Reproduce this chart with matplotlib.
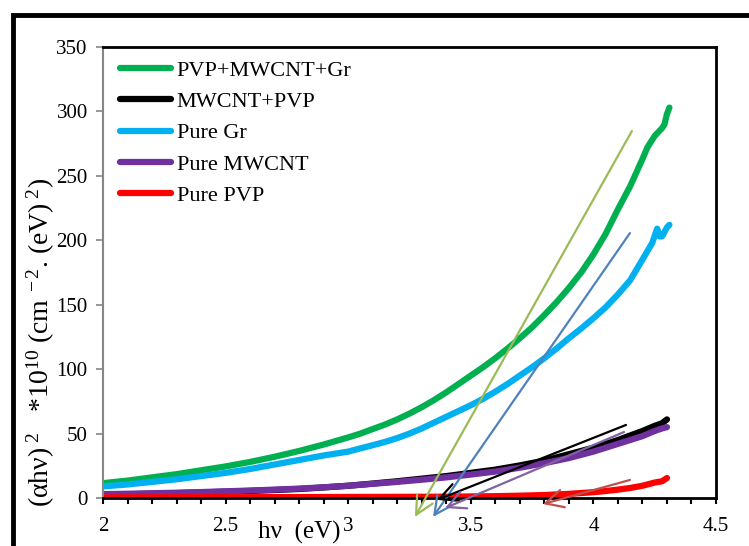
import matplotlib
matplotlib.use('Agg')
import matplotlib.pyplot as plt
from matplotlib.patches import Rectangle

# (alpha h nu)^2
x_green = [2.0, 2.1, 2.2, 2.3, 2.4, 2.5, 2.6, 2.7, 2.8, 2.9, 3.0, 3.05, 3.1, 3.15, 3.2,
           3.25, 3.3, 3.35, 3.4, 3.45, 3.5, 3.55, 3.6, 3.65, 3.7, 3.75, 3.8, 3.85, 3.9,
           3.95, 4.0, 4.05, 4.1, 4.15, 4.2, 4.22, 4.25, 4.28, 4.29, 4.3, 4.31]
y_green = [11.5, 13.5, 16, 18.5, 21.5, 24.5, 28, 32, 36.5, 41.5, 47, 50, 53.5, 57, 61,
           65.5, 70.5, 76, 82, 88.5, 95, 101.5, 108.5, 116, 124, 132.5, 142, 152, 163,
           175, 189, 205, 224, 242, 263, 272, 281, 287, 290, 298, 303]

x_blue = [2.0, 2.1, 2.2, 2.3, 2.4, 2.5, 2.6, 2.7, 2.8, 2.9, 3.0, 3.05, 3.1, 3.15, 3.2,
          3.25, 3.3, 3.35, 3.4, 3.45, 3.5, 3.55, 3.6, 3.65, 3.7, 3.75, 3.8, 3.85, 3.9,
          3.95, 4.0, 4.05, 4.1, 4.15, 4.2, 4.24, 4.26, 4.27, 4.28, 4.3, 4.31]
y_blue = [9, 10.5, 12.5, 14.5, 17, 19.5, 22.5, 26, 29.5, 33, 36, 38.5, 41, 43.5, 46.5,
          50, 54, 58.5, 63, 67.5, 72, 77, 82.5, 88.5, 95, 101.5, 108.5, 116, 124,
          131.5, 139.5, 148, 158, 169, 185, 198, 209, 203, 203, 210, 212]

x_low = [2.0, 2.1, 2.2, 2.3, 2.4, 2.5, 2.6, 2.7, 2.8, 2.9, 3.0, 3.1, 3.2, 3.3, 3.4, 3.5,
         3.6, 3.7, 3.8, 3.9, 4.0, 4.1, 4.2, 4.25, 4.28, 4.3]
y_black = [2.5, 2.9, 3.3, 3.8, 4.3, 4.9, 5.5, 6.2, 7, 8.2, 9.5, 11.2, 13, 15, 17, 19.5,
           22, 25.3, 29, 34, 39, 45, 52, 56, 58, 61]
y_purple = [3, 3.3, 3.7, 4.1, 4.6, 5.2, 5.8, 6.5, 7.3, 8.3, 9.5, 11, 12.5, 14.2, 16, 18.2,
            20.5, 23.5, 27, 31, 36, 42, 48, 52, 54, 55]

x_red = [2.0, 2.5, 3.0, 3.2, 3.4, 3.5, 3.6, 3.7, 3.8, 3.9, 4.0, 4.05, 4.1, 4.15, 4.2,
         4.25, 4.28, 4.3]
y_red = [0.5, 0.6, 0.8, 0.9, 1.0, 1.2, 1.4, 1.8, 2.3, 3.2, 4.5, 5.4, 6.5, 7.8, 9.5,
         12, 13, 15.5]

# tangent arrows: start (x0, y0) -> head (x1, y1)
arrow_x0 = [4.157, 4.149, 4.133, 4.125, 4.149]
arrow_y0 = [284.8, 205.6, 56.7, 51.2, 14.0]
arrow_x1 = [3.272, 3.346, 3.362, 3.395, 3.794]
arrow_y1 = [-14.7, -14.7, -1.5, -7.8, -4.7]
arrow_colors = ['#9BBB59', '#4F81BD', '#000000', '#8064A2', '#C0504D']

plt.rcParams['font.family'] = 'Liberation Serif'
plt.rcParams['mathtext.fontset'] = 'custom'
plt.rcParams['mathtext.rm'] = 'Liberation Serif'
plt.rcParams['mathtext.it'] = 'Liberation Serif:italic'

fig = plt.figure(figsize=(7.49, 5.46), dpi=100)
ax = fig.add_axes([103 / 749, 1 - 498 / 546, 613 / 749, 451 / 546])

lw = 4.5
l_green, = ax.plot(x_green, y_green, color='#00B050', lw=lw, solid_capstyle='round')
l_blue, = ax.plot(x_blue, y_blue, color='#00B0F0', lw=lw, solid_capstyle='round')
l_black, = ax.plot(x_low, y_black, color='#000000', lw=lw, solid_capstyle='round')
l_purple, = ax.plot(x_low, y_purple, color='#7030A0', lw=lw, solid_capstyle='round')
l_red, = ax.plot(x_red, y_red, color='#FF0000', lw=lw, solid_capstyle='round')

for i in range(len(arrow_colors)):
    ax.annotate('', xy=(arrow_x1[i], arrow_y1[i]), xytext=(arrow_x0[i], arrow_y0[i]),
                annotation_clip=False,
                arrowprops=dict(arrowstyle='->', color=arrow_colors[i], lw=1.6,
                                shrinkA=0, shrinkB=0, mutation_scale=32))

ax.set_xlim(2, 4.5)
ax.set_ylim(0, 350)
ax.set_xticks([2, 2.5, 3, 3.5, 4, 4.5])
ax.set_xticklabels(['2', '2.5', '3', '3.5', '4', '4.5'])
ax.set_xticks([2 + 0.1 * k for k in range(26)], minor=True)
ax.set_yticks(range(0, 351, 50))

ax.tick_params(axis='both', labelsize=15)
ax.tick_params(axis='x', which='both', direction='out', length=4, width=1.5, pad=10)
ax.tick_params(axis='y', which='major', direction='out', length=5, width=1.2,
               color='#868686', pad=6)

ax.spines['left'].set_color('#868686')
ax.spines['left'].set_linewidth(1.5)
for s in ['top', 'right', 'bottom']:
    ax.spines[s].set_color('black')
    ax.spines[s].set_linewidth(2)

ax.set_xlabel('h\u03bd  (eV)', fontsize=18)
ax.xaxis.set_label_coords(0.32, -0.05)
ax.set_ylabel('(\u03b1h\u03bd)$^{\\ 2}$   *10$^{10}$ (cm$^{\\ -2}$. (eV)$^{\\ 2}$)',
              fontsize=20)
ax.yaxis.set_label_coords(-0.075, 0.346)

ax.legend([l_green, l_black, l_blue, l_purple, l_red],
          ['PVP+MWCNT+Gr', 'MWCNT+PVP', 'Pure Gr', 'Pure MWCNT', 'Pure PVP'],
          loc='upper left', bbox_to_anchor=(0.013, 0.99), frameon=False,
          fontsize=16, handlelength=2.3, handletextpad=0.25, labelspacing=0.48,
          borderaxespad=0)

# thick black frame round the figure, running off the right and bottom edges
fig.patches.append(Rectangle((13 / 749, -0.2), 1.2, 1 - 14.5 / 546 + 0.2,
                             transform=fig.transFigure, fill=False,
                             edgecolor='black', lw=3.5))

plt.savefig('out.png', dpi=100)
